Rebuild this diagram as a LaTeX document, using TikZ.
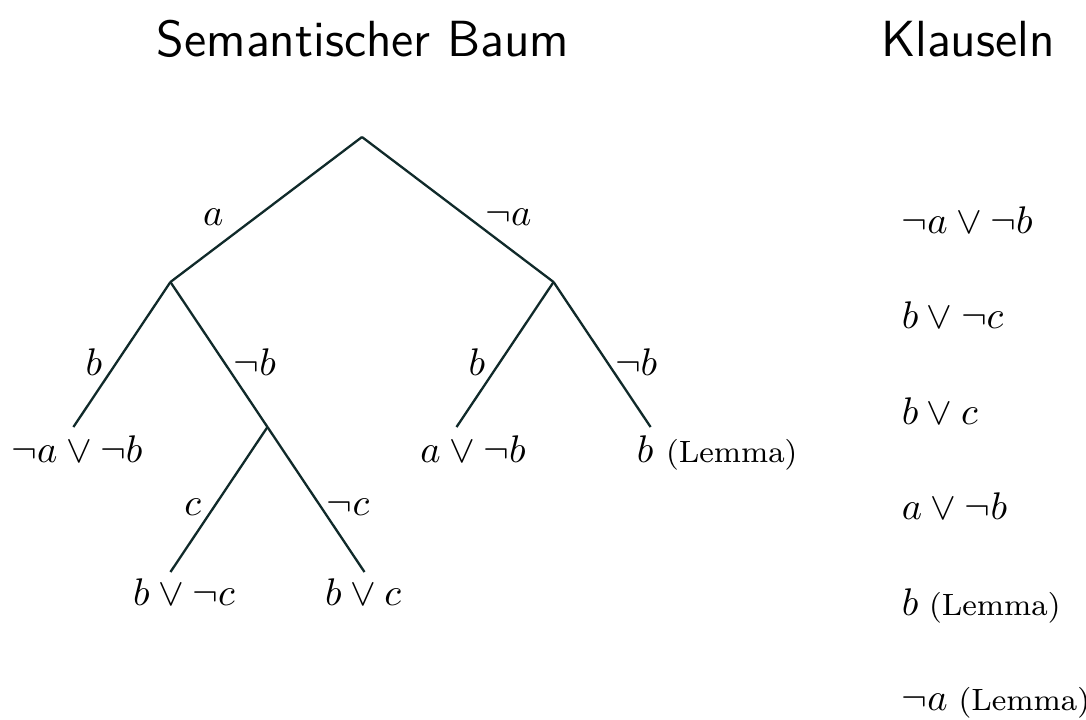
\documentclass[tikz,border=0pt]{standalone}
\usetikzlibrary{positioning}
\definecolor{treeline}{RGB}{16,42,42}

\begin{document}
\begin{tikzpicture}[
x=0.2597pt, y=-0.2597pt,
level distance=37.66pt,
level 1/.style={sibling distance=99.5pt},
level 2/.style={sibling distance=50.4pt},
level 3/.style={sibling distance=50.4pt},
edge from parent/.style={draw, treeline, line width=0.6pt},
lbl/.style={inner sep=0pt, pos=.55, text=black},
clause/.style={inner sep=0pt, anchor=base},
heading/.style={font=\sffamily\fontsize{13.2}{16}\selectfont, inner sep=0pt, anchor=base}
]
\useasboundingbox (0,0) rectangle (1086,720);

\node[heading] (title) at (363,56) {Semantischer Baum};
\node[heading] (klausel) at (968,56) {Klauseln};

\node[coordinate] (root) at (362,137) {}
    child {
        coordinate (A)
        child {
            coordinate (l1)
            edge from parent node[lbl, left=3.6pt] {$b$}
        }
        child {
            coordinate (B)
            child {
                coordinate (l5)
                edge from parent node[lbl, left=3.1pt] {$c$}
            }
            child {
                coordinate (l6)
                edge from parent node[lbl, right=1.3pt] {$\neg c$}
            }
            edge from parent node[lbl, right=2.3pt] {$\neg b$}
        }
        edge from parent node[lbl, left=8.3pt] {$a$}
    }
    child {
        coordinate (NA)
        child {
            coordinate (l3)
            edge from parent node[lbl, left=3.6pt] {$b$}
        }
        child {
            coordinate (l4)
            edge from parent node[lbl, right=1.8pt] {$\neg b$}
        }
        edge from parent node[lbl, right=4.4pt] {$\neg a$}
    };

% Klauseln an den Blaettern
\node[clause] (c1) at (77,462) {$\neg a \vee \neg b$};
\node[clause] (c3) at (473,462) {$a \vee \neg b$};
\node[clause, anchor=base west] (c4) at (636,462) {$b$ {\footnotesize (Lemma)}};
\node[clause] (c5) at (184,605) {$b \vee \neg c$};
\node[clause] (c6) at (363,605) {$b \vee c$};

% Klauselliste
\foreach \txt [count=\i] in {{$\neg a \vee \neg b$}, {$b \vee \neg c$}, {$b \vee c$},
    {$a \vee \neg b$}, {$b${\footnotesize\ (Lemma)}}, {$\neg a${\footnotesize\ (Lemma)}}}
    \node[clause, anchor=base west] (k\i) at (901,{137.4+95.6*\i}) {\txt};

\end{tikzpicture}
\end{document}
